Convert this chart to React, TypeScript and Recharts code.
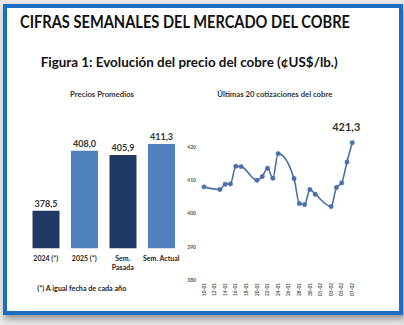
import React from 'react'
import { BarChart, Bar, Cell, XAxis, YAxis, LabelList, LineChart, Line } from 'recharts'

// Precios promedios (¢US$/lb.)
const barCategories = ['2024 (*)', '2025 (*)', 'Sem.\nPasada', 'Sem. Actual']
const barValues = [378.5, 408.0, 405.9, 411.3]
const barColors = ['#1f3864', '#4f81bd', '#1f3864', '#4f81bd']

// Últimas cotizaciones (dd-mm, 2025)
const quoteDates = [
  '10-01', '13-01', '14-01', '15-01', '16-01', '17-01', '20-01', '21-01', '22-01', '23-01', '24-01',
  '27-01', '28-01', '29-01', '30-01', '31-01', '03-02', '04-02', '05-02', '06-02', '07-02',
]
const quoteValues = [
  408.0, 407.2, 408.8, 408.9, 414.2, 414.1, 410.0, 411.1, 413.6, 410.6, 418.0,
  410.5, 403.0, 402.7, 407.2, 405.8, 402.1, 407.8, 409.2, 415.5, 421.3,
]
const dateTicks = [
  '10-01', '12-01', '14-01', '16-01', '18-01', '20-01', '22-01', '24-01',
  '26-01', '28-01', '30-01', '01-02', '03-02', '05-02', '07-02',
]
const priceTicks = [380, 390, 400, 410, 420]

const FONT = 'Lato, "Open Sans", sans-serif'
const LINE_COLOR = '#4c6fa8'

const dayOf = (s: string) => {
  const [d, m] = s.split('-').map(Number)
  return Math.round((Date.UTC(2025, m - 1, d) - Date.UTC(2025, 0, 10)) / 86400000)
}
const labelOf = (day: number) => dateTicks.find(t => dayOf(t) === day) ?? ''
const fmt = (v: number) => v.toFixed(1).replace('.', ',')

const barData = barCategories.map((name, i) => ({ name, value: barValues[i] }))
const lineData = quoteDates.map((d, i) => ({ day: dayOf(d), value: quoteValues[i] }))
const lastIdx = lineData.length - 1

function BarTick({ x, y, payload }: any) {
  const lines = String(payload.value).split('\n')
  return (
    <text x={x} y={y} textAnchor="middle" fontSize={7} fill="#222" fontFamily={FONT} fontWeight={700}>
      {lines.map((l, i) => (
        <tspan key={i} x={x} dy={i === 0 ? '0.71em' : 9}>{l}</tspan>
      ))}
    </text>
  )
}

function DateTick({ x, y, payload }: any) {
  return (
    <g transform={`translate(${x},${y - 5})`}>
      <text transform="rotate(-90)" textAnchor="end" dy="0.35em" fontSize={4.8} fill="#555" fontFamily={FONT} fontWeight={700}>
        {labelOf(payload.value)}
      </text>
    </g>
  )
}

function LastLabel(p: any) {
  if (p.index !== lastIdx) return null
  return (
    <text x={p.x - 6} y={p.y - 12} textAnchor="middle" fontSize={11} fontWeight={700} fill="#333" fontFamily={FONT}>
      {fmt(p.value)}
    </text>
  )
}

export default function App() {
  return (
    <div style={{ position: 'fixed', left: 0, top: 0, width: 404, height: 325, background: '#e6e6e6', overflow: 'hidden' }}>
      <div style={{
        position: 'absolute', left: 3, top: 4, width: 400, height: 311, boxSizing: 'border-box',
        border: '4px solid #1b6ec2', background: '#fff', boxShadow: '2px 4px 6px rgba(0,0,0,0.35)',
      }} />

      <div style={{ position: 'absolute', left: 0, top: 0 }}>
        <BarChart width={404} height={325} data={barData}
          margin={{ top: 106, right: 223.5, bottom: 46.7, left: 26.5 }}>
          <XAxis dataKey="name" axisLine={false} tickLine={false} interval={0} height={30} tick={<BarTick />} />
          <YAxis hide domain={[360, 430]} />
          <Bar dataKey="value" barSize={27} isAnimationActive={false}>
            {barData.map((_, i) => <Cell key={i} fill={barColors[i]} />)}
            <LabelList dataKey="value" position="top" offset={4} formatter={(v: any) => fmt(Number(v))}
              style={{ fontSize: 9, fontWeight: 700, fill: '#333', fontFamily: FONT }} />
          </Bar>
        </BarChart>
      </div>

      <div style={{ position: 'absolute', left: 0, top: 0 }}>
        <LineChart width={404} height={325} data={lineData}
          margin={{ top: 113.7, right: 51.7, bottom: 25, left: 180 }}>
          <XAxis dataKey="day" type="number" domain={[0, dayOf(quoteDates[lastIdx])]} ticks={dateTicks.map(dayOf)}
            axisLine={false} tickLine={false} interval={0} height={20} tick={<DateTick />} />
          <YAxis domain={[380, 430]} ticks={priceTicks} axisLine={false} tickLine={false} width={24}
            tick={{ fontSize: 5, fill: '#555', fontFamily: FONT, fontWeight: 700 }} />
          <Line dataKey="value" type="monotone" stroke={LINE_COLOR} strokeWidth={1.6}
            dot={{ r: 2.2, fill: LINE_COLOR, stroke: LINE_COLOR, strokeWidth: 0.5 }} isAnimationActive={false}>
            <LabelList dataKey="value" content={<LastLabel />} />
          </Line>
        </LineChart>
      </div>

      <svg width={404} height={325} style={{ position: 'absolute', left: 0, top: 0, pointerEvents: 'none' }}
        fontFamily={FONT} fontWeight={700}>
        <text x={20} y={28.3} fontSize={16.5} fill="#111" textLength={330} lengthAdjust="spacingAndGlyphs">
          CIFRAS SEMANALES DEL MERCADO DEL COBRE
        </text>
        <text x={40.7} y={66.7} fontSize={14} fill="#111" textLength={297} lengthAdjust="spacingAndGlyphs">
          Figura 1: Evolución del precio del cobre (¢US$/lb.)
        </text>
        <text x={70} y={97} fontSize={7.5} fill="#333" textLength={64} lengthAdjust="spacingAndGlyphs">
          Precios Promedios
        </text>
        <text x={217.3} y={97.3} fontSize={7.5} fill="#333" textLength={115} lengthAdjust="spacingAndGlyphs">
          Últimas 20 cotizaciones del cobre
        </text>
        <text x={37.3} y={291} fontSize={6.5} fill="#222" textLength={89} lengthAdjust="spacingAndGlyphs">
          (*) A igual fecha de cada año
        </text>
      </svg>
    </div>
  )
}
